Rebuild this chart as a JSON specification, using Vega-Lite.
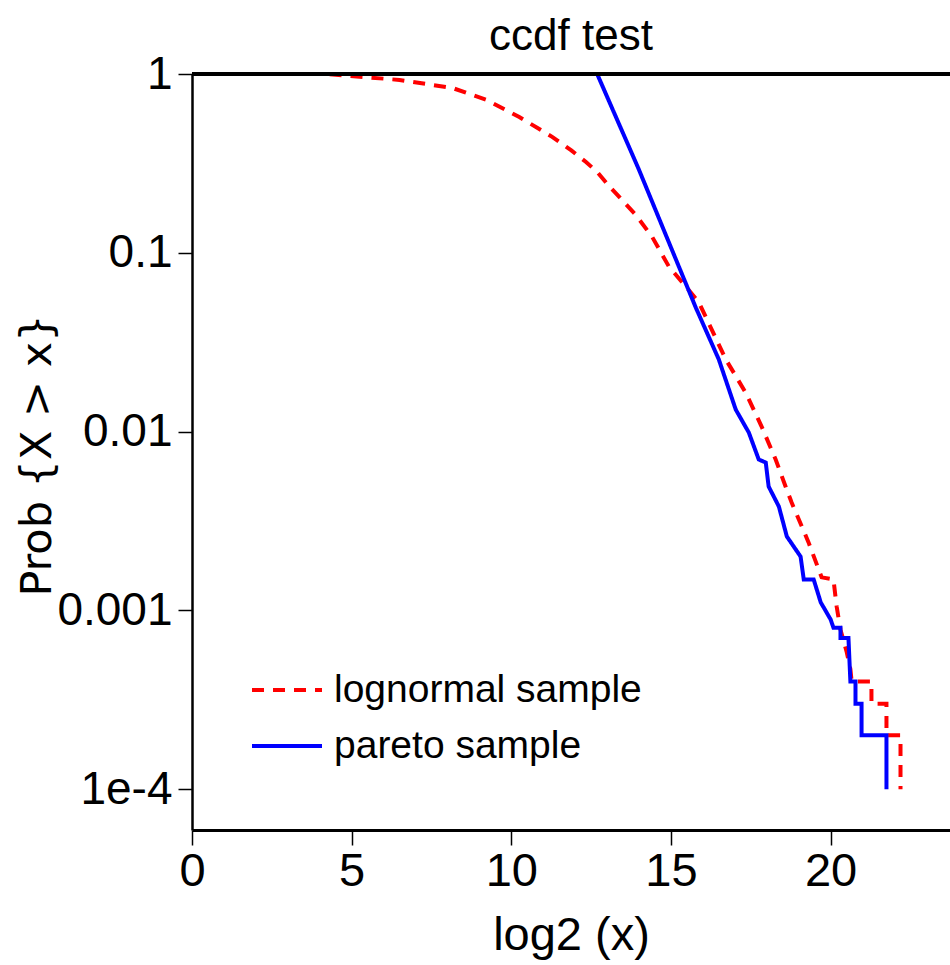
{
  "$schema": "https://vega.github.io/schema/vega-lite/v6.json",
  "width": 758,
  "height": 756,
  "autosize": {"type": "none"},
  "padding": {"left": 192, "top": 74, "right": 0, "bottom": 135},
  "background": "white",
  "config": {
    "view": {"stroke": null},
    "font": "Liberation Sans"
  },
  "title": {
    "text": "ccdf test",
    "font": "Liberation Sans",
    "fontSize": 44,
    "fontWeight": "normal",
    "anchor": "middle",
    "frame": "group",
    "baseline": "alphabetic",
    "offset": 2,
    "dy": 45,
    "color": "black"
  },
  "data": {
    "values": [
      {"series": "lognormal sample", "log2x": 4.31, "ccdf": 0.998},
      {"series": "lognormal sample", "log2x": 6.5, "ccdf": 0.926},
      {"series": "lognormal sample", "log2x": 8.16, "ccdf": 0.835},
      {"series": "lognormal sample", "log2x": 9.22, "ccdf": 0.716},
      {"series": "lognormal sample", "log2x": 10.25, "ccdf": 0.575},
      {"series": "lognormal sample", "log2x": 11.28, "ccdf": 0.445},
      {"series": "lognormal sample", "log2x": 11.88, "ccdf": 0.374},
      {"series": "lognormal sample", "log2x": 12.34, "ccdf": 0.322},
      {"series": "lognormal sample", "log2x": 12.69, "ccdf": 0.283},
      {"series": "lognormal sample", "log2x": 13.09, "ccdf": 0.233},
      {"series": "lognormal sample", "log2x": 13.38, "ccdf": 0.2056},
      {"series": "lognormal sample", "log2x": 13.9, "ccdf": 0.1626},
      {"series": "lognormal sample", "log2x": 14.41, "ccdf": 0.1229},
      {"series": "lognormal sample", "log2x": 14.94, "ccdf": 0.0835},
      {"series": "lognormal sample", "log2x": 15.47, "ccdf": 0.0646},
      {"series": "lognormal sample", "log2x": 15.88, "ccdf": 0.0526},
      {"series": "lognormal sample", "log2x": 16.72, "ccdf": 0.0253},
      {"series": "lognormal sample", "log2x": 17.34, "ccdf": 0.01652},
      {"series": "lognormal sample", "log2x": 17.84, "ccdf": 0.01067},
      {"series": "lognormal sample", "log2x": 18.28, "ccdf": 0.00698},
      {"series": "lognormal sample", "log2x": 18.59, "ccdf": 0.00493},
      {"series": "lognormal sample", "log2x": 18.78, "ccdf": 0.00401},
      {"series": "lognormal sample", "log2x": 19.31, "ccdf": 0.0024},
      {"series": "lognormal sample", "log2x": 19.72, "ccdf": 0.00153},
      {"series": "lognormal sample", "log2x": 20.09, "ccdf": 0.00149},
      {"series": "lognormal sample", "log2x": 20.19, "ccdf": 0.00105},
      {"series": "lognormal sample", "log2x": 20.31, "ccdf": 0.00078},
      {"series": "lognormal sample", "log2x": 20.5, "ccdf": 0.00059},
      {"series": "lognormal sample", "log2x": 20.62, "ccdf": 0.00047},
      {"series": "lognormal sample", "log2x": 20.66, "ccdf": 0.0004},
      {"series": "lognormal sample", "log2x": 21.28, "ccdf": 0.0004},
      {"series": "lognormal sample", "log2x": 21.28, "ccdf": 0.0003},
      {"series": "lognormal sample", "log2x": 21.75, "ccdf": 0.0003},
      {"series": "lognormal sample", "log2x": 21.75, "ccdf": 0.0002},
      {"series": "lognormal sample", "log2x": 22.19, "ccdf": 0.0002},
      {"series": "lognormal sample", "log2x": 22.19, "ccdf": 0.0001},
      {"series": "pareto sample", "log2x": 12.69, "ccdf": 1.0},
      {"series": "pareto sample", "log2x": 14.0, "ccdf": 0.291},
      {"series": "pareto sample", "log2x": 15.16, "ccdf": 0.0914},
      {"series": "pareto sample", "log2x": 15.78, "ccdf": 0.0493},
      {"series": "pareto sample", "log2x": 16.5, "ccdf": 0.0253},
      {"series": "pareto sample", "log2x": 17.03, "ccdf": 0.01327},
      {"series": "pareto sample", "log2x": 17.44, "ccdf": 0.00987},
      {"series": "pareto sample", "log2x": 17.75, "ccdf": 0.00698},
      {"series": "pareto sample", "log2x": 17.97, "ccdf": 0.00671},
      {"series": "pareto sample", "log2x": 18.06, "ccdf": 0.00493},
      {"series": "pareto sample", "log2x": 18.38, "ccdf": 0.00381},
      {"series": "pareto sample", "log2x": 18.63, "ccdf": 0.00259},
      {"series": "pareto sample", "log2x": 19.06, "ccdf": 0.002},
      {"series": "pareto sample", "log2x": 19.16, "ccdf": 0.00149},
      {"series": "pareto sample", "log2x": 19.47, "ccdf": 0.00149},
      {"series": "pareto sample", "log2x": 19.69, "ccdf": 0.00111},
      {"series": "pareto sample", "log2x": 20.0, "ccdf": 0.00089},
      {"series": "pareto sample", "log2x": 20.09, "ccdf": 0.0008},
      {"series": "pareto sample", "log2x": 20.31, "ccdf": 0.0008},
      {"series": "pareto sample", "log2x": 20.31, "ccdf": 0.0007},
      {"series": "pareto sample", "log2x": 20.56, "ccdf": 0.0007},
      {"series": "pareto sample", "log2x": 20.62, "ccdf": 0.0004},
      {"series": "pareto sample", "log2x": 20.78, "ccdf": 0.0004},
      {"series": "pareto sample", "log2x": 20.78, "ccdf": 0.0003},
      {"series": "pareto sample", "log2x": 20.97, "ccdf": 0.0003},
      {"series": "pareto sample", "log2x": 20.97, "ccdf": 0.0002},
      {"series": "pareto sample", "log2x": 21.75, "ccdf": 0.0002},
      {"series": "pareto sample", "log2x": 21.75, "ccdf": 0.0001}
    ]
  },
  "layer": [
    {
      "mark": {"type": "line", "strokeWidth": 4},
      "encoding": {
        "x": {
          "field": "log2x",
          "type": "quantitative",
          "scale": {"domain": [0, 23.74], "nice": false, "zero": false},
          "axis": {
            "title": "log2 (x)",
            "values": [0, 5, 10, 15, 20],
            "grid": false,
            "domainColor": "black",
            "domainWidth": 3,
            "tickColor": "black",
            "tickWidth": 1.5,
            "tickSize": 15,
            "labelFont": "Liberation Sans",
            "labelFontSize": 47,
            "labelColor": "black",
            "labelPadding": 3,
            "labelFlush": false,
            "titleFont": "Liberation Sans",
            "titleFontSize": 47,
            "titleFontWeight": "normal",
            "titleColor": "black",
            "titleBaseline": "alphabetic",
            "titleY": 119
          }
        },
        "y": {
          "field": "ccdf",
          "type": "quantitative",
          "scale": {"type": "log", "domain": [0.0000591, 1], "nice": false},
          "axis": {
            "title": "Prob {X > x}",
            "values": [1, 0.1, 0.01, 0.001, 0.0001],
            "labelExpr": "datum.value < 0.0005 ? '1e-4' : datum.value < 0.005 ? '0.001' : datum.value < 0.05 ? '0.01' : datum.value < 0.5 ? '0.1' : '1'",
            "grid": false,
            "domainColor": "black",
            "domainWidth": 2.5,
            "tickColor": "black",
            "tickWidth": 1.5,
            "tickSize": 14,
            "labelFont": "Liberation Sans",
            "labelFontSize": 46,
            "labelColor": "black",
            "labelPadding": 6,
            "labelFlush": false,
            "titleFont": "DejaVu Sans",
            "titleFontSize": 43,
            "titleFontWeight": "normal",
            "titleColor": "black",
            "titleAngle": -90,
            "titleAlign": "center",
            "titleBaseline": "alphabetic",
            "titleX": -142,
            "titleY": 381
          }
        },
        "color": {
          "field": "series",
          "type": "nominal",
          "scale": {"domain": ["lognormal sample", "pareto sample"], "range": ["#ff0000", "#0000ff"]},
          "legend": {
            "title": null,
            "orient": "none",
            "legendX": 58,
            "legendY": 593,
            "symbolType": "stroke",
            "symbolSize": 4900,
            "symbolStrokeWidth": 4,
            "clipHeight": 46,
            "rowPadding": 10,
            "labelFont": "Liberation Sans",
            "labelFontSize": 39,
            "labelColor": "black",
            "labelOffset": 10,
            "labelLimit": 0,
            "padding": 0
          }
        },
        "strokeDash": {
          "field": "series",
          "type": "nominal",
          "scale": {"domain": ["lognormal sample", "pareto sample"], "range": [[12, 9], [1, 0]]},
          "legend": {
            "title": null,
            "orient": "none",
            "legendX": 58,
            "legendY": 593,
            "symbolType": "stroke",
            "symbolSize": 4900,
            "symbolStrokeWidth": 4,
            "clipHeight": 46,
            "rowPadding": 10,
            "labelFont": "Liberation Sans",
            "labelFontSize": 39,
            "labelColor": "black",
            "labelOffset": 10,
            "labelLimit": 0,
            "padding": 0
          }
        }
      }
    },
    {
      "mark": {"type": "rule", "color": "black", "strokeWidth": 3},
      "encoding": {"y": {"datum": 1}}
    }
  ]
}
